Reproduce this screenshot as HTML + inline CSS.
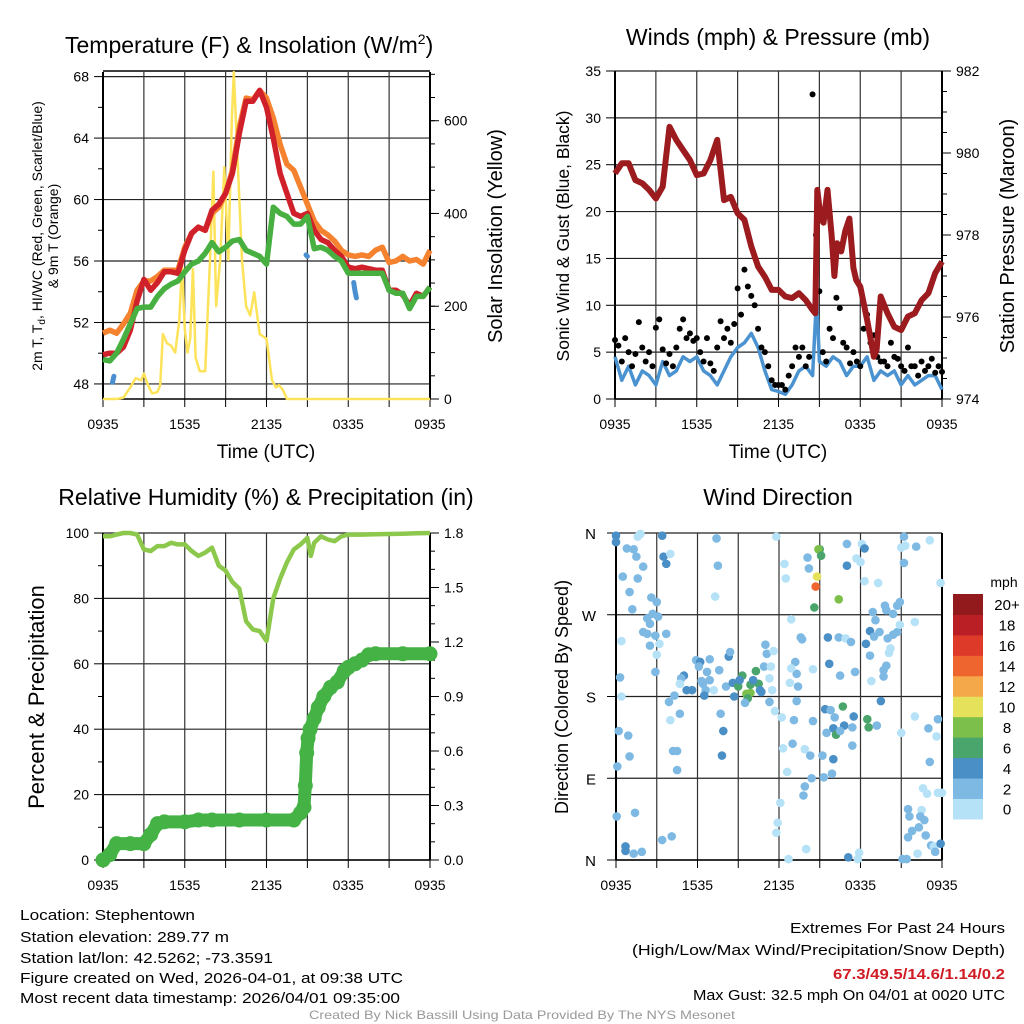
<!DOCTYPE html>
<html><head><meta charset="utf-8"><title>Mesonet Meteogram</title>
<style>
html,body{margin:0;padding:0;background:#fff;}
svg{display:block;font-family:"Liberation Sans",Arial,sans-serif;}
</style></head>
<body>
<svg id="fig" width="1024" height="1024" viewBox="0 0 1024 1024">
<rect width="1024" height="1024" fill="#fff"/>
<g id="root"></g>
</svg>
<script>
// ---------- DATA ----------
const timeTickLabels = ["0935","1535","2135","0335","0935"];
const tempHours = [0,0.5,1,1.5,2,2.5,3,3.5,4,4.5,5,5.5,6,6.5,7,7.5,8,8.5,9,9.5,10,10.5,11,11.5,12,12.5,13,13.5,14,14.5,15,15.5,16,16.5,17,17.5,18,18.5,19,19.5,20,20.5,21,21.5,22,22.5,23,23.5,24];
const temp2m = [49.9,50.0,50.0,50.4,51.5,53.4,54.8,54.1,54.6,55.3,55.3,55.2,56.7,57.8,58.2,58.0,59.3,59.7,60.4,61.7,64.3,66.4,66.4,67.1,66.0,64.0,61.7,60.4,59.1,58.9,59.1,58.0,57.4,57.2,56.7,56.3,55.6,55.5,55.6,55.5,55.4,55.4,54.1,54.1,53.8,53.1,53.9,53.7,54.3];
const dewpoint = [49.6,49.5,50.0,50.9,51.9,52.9,53.0,53.0,53.7,54.2,54.5,54.7,55.3,55.8,56.0,56.5,57.2,56.6,56.9,57.3,57.4,56.7,56.5,56.3,55.8,59.5,59.1,58.9,58.4,58.4,58.9,56.8,56.9,56.7,56.3,56.0,55.2,55.2,55.2,55.2,55.2,55.2,54.1,53.9,53.9,52.9,53.7,53.7,54.3];
const temp9m = [51.3,51.5,51.3,51.9,52.6,54.1,54.7,54.7,55.0,55.4,55.4,55.4,56.9,57.8,58.2,58.0,59.1,59.5,60.4,61.9,64.7,66.6,66.5,67.1,66.6,65.3,63.6,62.3,61.9,60.8,59.7,58.6,58.0,57.7,57.3,56.7,56.4,56.3,56.4,56.3,56.7,56.9,55.9,56.0,56.3,56.0,56.1,55.8,56.7];
const hiwcHours = [0.7,0.75,0.8, 14.9,15.0, 18.4,18.5,18.6];
const hiwcValues = [48.1,48.3,48.5, 56.4,56.3, 54.6,54.0,53.6];
const hiwcSegments = [3,2,3];
const solarHours = [0,0.5,1,1.5,2,2.4,2.8,3.0,3.3,3.6,4.0,4.2,4.4,4.7,5.0,5.3,5.6,5.8,6.0,6.2,6.4,6.6,6.8,7.1,7.5,7.85,8.1,8.3,8.6,8.9,9.2,9.45,9.6,9.9,10.2,10.5,10.8,11.1,11.5,12.0,12.4,12.7,12.9,13.2,13.5,24];
const solarValues = [0,0,0,3,25,45,40,55,30,12,15,30,140,120,115,100,170,290,150,100,130,280,90,60,60,300,490,200,300,500,300,600,705,500,300,200,180,230,140,130,40,25,30,20,0,0];
const windHours = [0,0.5,1,1.5,2,2.5,3,3.5,4,4.5,5,5.5,6,6.5,7,7.5,8,8.5,9,9.5,10,10.5,11,11.5,12,12.5,13,13.5,14,14.5,14.8,15,15.5,16,16.5,17,17.5,18,18.5,19,19.5,20,20.5,21,21.5,22,22.5,23,23.5,24];
const windSpeed = [4.5,2,3.5,1.5,3,2.5,1.5,4,2.5,3,4.5,4,4.5,3,2.5,1.5,3,4.5,5.5,6,7,5.5,3,1,0.8,0.5,1.5,3,3.5,2.5,11,4,3.5,4.5,4,2.5,3.5,3.5,4.5,2,3,2.5,3,1.5,2.5,1.5,2,2.5,2.5,1];
const gustSpeed = [6.3,5.7,4,6.5,5,3.5,4.8,8.2,5.5,4,5,3.5,7.6,8.5,5.3,3.8,4.8,3.5,5.5,7.5,8.5,6.5,7,6.2,6.5,5,4,6.5,3.8,3,5.5,8.3,6.5,7.5,6,8,11.8,9,13.8,12,11,10,7.5,5.5,5,3.5,2,1.5,1.5,1.5,1,2.5,3.5,5.5,4.5,5.5,3.5,4.5,32.5,17.5,11.5,5,4,7.5,6.5,10.8,9.7,6,5.5,3.8,5,4,3.5,7.5,9,6,6.8,4.5,4,4,3.5,6,4.5,4.3,3.5,3,5.5,3.5,3.5,2.5,4,3,3.5,4.3,2.8,3.5,2.9];
const pressHours = [0,0.5,1,1.5,2,2.5,3,3.5,4,4.5,5,5.5,6,6.5,7,7.5,8,8.5,9,9.5,10,10.5,11,11.5,12,12.5,13,13.5,14,14.5,14.7,14.85,15.1,15.3,15.6,15.9,16.1,16.3,16.6,16.9,17.2,17.5,17.7,18,18.5,19,19.2,19.5,20,20.5,21,21.5,22,22.5,23,23.5,24];
const pressure = [979.5,979.75,979.75,979.34,979.26,979.1,978.89,979.18,980.64,980.32,980.07,979.83,979.46,979.5,979.83,980.32,978.85,978.93,978.53,978.37,977.72,977.23,976.98,976.66,976.66,976.5,976.46,976.58,976.41,976.17,976.09,979.1,978.4,978.3,979.1,978.0,977.0,977.8,977.6,978.1,978.4,977.2,976.9,976.74,975.93,975.03,975.2,976.5,976.09,975.76,975.68,976.01,976.09,976.41,976.58,977.07,977.35];
const rhHours = [0,0.5,1,1.5,2,2.5,3,3.5,4,4.5,5,5.5,6,6.5,7,7.5,8,8.5,9,9.5,10,10.5,11,11.5,12,12.5,13,13.5,14,14.5,15,15.25,15.5,16,16.5,17,17.5,18,19,20,21,22,23,24];
const rhValues = [99,99,99.5,100,100,99.5,95,94.5,96,96,97,96.5,96.5,94.5,93,94,95.5,90,88.5,85,83,73,70.5,70,67,80,86,91,95,96.5,98.5,93,97,99,98,97.5,99,99.5,99.5,99.6,99.7,99.8,99.9,100];
const precipHours = [0,0.5,1,2,3,3.5,4,4.5,6,7,8,10,12,14,14.5,14.75,14.85,14.95,15.05,15.2,15.5,15.8,16.2,16.7,17.2,17.7,18,18.5,19,19.5,20,22,24];
const precipValues = [0,0.03,0.09,0.09,0.09,0.14,0.2,0.21,0.21,0.22,0.22,0.22,0.22,0.22,0.26,0.29,0.41,0.59,0.67,0.72,0.78,0.84,0.9,0.95,0.98,1.04,1.06,1.08,1.1,1.13,1.135,1.135,1.135];
const dirHours = [0.0,0.0,1.8,1.6,0.8,1.3,1.5,2.0,0.5,1.6,1.0,2.6,3.0,1.2,2.7,3.1,2.3,2.5,2.0,2.3,2.9,3.7,0.4,2.5,3.2,3.0,2.9,0.3,0.4,0.2,0.9,1.0,0.1,0.05,1.4,0.7,0.7,1.3,1.9,3.4,4.1,3.4,3.5,3.7,4.0,7.4,7.5,7.3,3.9,4.3,4.7,4.0,4.2,4.5,4.5,5.0,4.8,4.7,5.2,5.6,5.9,6.2,6.1,6.9,6.7,6.9,6.4,6.6,6.5,7.2,6.3,7.6,7.7,7.9,7.8,8.1,8.3,8.4,8.6,8.7,9.0,9.3,9.1,9.6,9.9,9.7,9.9,10.3,10.5,10.1,10.6,9.5,10.7,10.9,11.1,11.0,11.6,11.3,11.5,11.3,11.4,11.7,11.8,12.4,12.5,12.2,12.3,13.0,13.1,12.6,12.1,11.9,11.8,12.7,12.9,13.6,13.7,13.2,13.3,13.4,12.9,12.8,13.3,13.9,14.3,13.9,13.8,14.4,14.0,14.5,14.1,14.2,15.0,14.9,15.1,14.8,14.7,14.6,16.4,15.6,16.4,16.9,17.3,15.7,16.5,17.6,15.4,15.8,16.1,16.7,17.5,16.8,16.0,15.5,16.2,16.5,17.4,17.4,14.5,15.2,16.0,15.3,15.9,17.0,17.0,18.1,18.3,17.7,18.0,18.3,19.3,18.6,18.5,18.4,18.7,18.7,18.9,19.1,19.0,19.4,18.8,19.5,19.2,19.9,19.7,19.7,20.2,20.1,20.0,20.4,20.7,19.8,19.9,20.4,20.7,20.9,20.9,22.0,21.2,21.3,21.0,21.2,22.1,23.1,23.9,21.0,22.0,23.0,23.7,23.6,23.1,22.6,22.9,23.7,24.0,21.5,22.5,21.6,22.4,22.7,21.8,22.3,22.8,21.5,23.2,23.4,23.5,22.2,21.4,23.9,17.1,17.9,17.8,21.1];
const dirDegrees = [357,350,359,356,343,342,334,323,312,310,295,289,284,276,271,268,266,260,251,249,247,249,241,236,238,226,207,201,180,142,137,114,103,48,52,15,10,7,9,22,26,357,334,326,337,354,324,290,174,181,161,154,120,120,99,203,200,194,187,187,220,218,213,221,207,198,194,187,181,187,197,209,161,142,115,191,224,229,195,180,191,203,198,183,184,178,193,208,194,198,187,173,185,213,227,237,230,200,187,174,213,164,356,326,310,157,123,128,154,97,63,41,30,1,265,245,243,218,205,191,211,195,175,122,115,81,71,90,12,210,333,321,342,342,335,312,301,278,287,245,245,244,240,216,203,207,166,165,157,169,158,148,145,140,138,142,146,126,153,115,111,91,95,348,324,348,343,332,328,307,305,146,155,238,225,252,273,264,246,251,197,175,148,214,209,202,233,228,244,248,251,280,275,271,280,284,259,262,356,346,344,327,345,352,305,140,158,145,155,136,108,79,73,74,74,56,55,48,48,44,32,36,27,25,16,15,9,7,1,18,3,8,1,1];
const dirSpeed = [5,5,1,1,3,3,3,3,3,3,3,3,3,3,3,3,3,3,3,3,3,3,1,3,1,1,3,3,1,3,3,3,3,3,3,5,5,3,3,3,3,5,5,5,1,3,3,1,3,3,3,1,3,3,3,5,3,1,5,5,3,5,3,3,3,3,3,3,5,1,3,3,3,5,5,3,5,3,5,5,7,7,5,9,9,7,7,7,7,5,5,3,5,3,3,3,1,1,1,3,1,1,1,1,1,1,1,3,3,1,1,1,1,1,1,3,3,3,3,3,1,1,3,1,3,3,3,3,1,1,3,3,7,9,7,11,15,7,9,5,3,1,3,5,3,3,5,3,3,7,5,5,5,3,7,3,3,3,3,3,5,3,3,3,5,1,5,1,1,1,1,7,7,5,3,5,3,3,3,3,1,5,3,3,3,3,1,1,3,3,3,3,3,3,3,3,1,1,3,1,1,3,3,1,1,1,1,3,3,1,3,1,1,1,1,3,1,3,3,3,3,3,3,3,3,1,3,1,3,5,5,1,1];
const speedBinLabels = ["0","2","4","6","8","10","12","14","16","18","20+"];
const speedBinColors = ["#b5e2f7","#7db9e3","#4a8fc6","#4aa56c","#7cc04b","#e6e15a","#f5a84a","#ef6530","#dd3a2a","#bb1f26","#921a1c"];
const dirLabels = ["N","E","S","W","N"];

// ---------- HELPERS ----------
const NS = "http://www.w3.org/2000/svg";
const root = document.getElementById("root");
function el(tag, attrs, parent){ const e=document.createElementNS(NS,tag); for(const k in attrs) e.setAttribute(k,attrs[k]); (parent||root).appendChild(e); return e; }
function txt(s, attrs, parent){ const e=el("text",attrs,parent); e.textContent=s; return e; }
function panel(x0,y0,w,h){ return {x0,y0,w,h, X:t=>x0+t/24*w}; }
function lin(d0,d1,p0,p1){ return v=>p0+(v-d0)/(d1-d0)*(p1-p0); }
function pathFrom(xs,ys){ return xs.map((x,i)=>(i?"L":"M")+x.toFixed(1)+","+ys[i].toFixed(1)).join(""); }

function frameAndGrid(P, g, yTicksPx, leftLabels, rightTicksPx, rightLabels, leftMinorPx, rightMinorPx){
  yTicksPx.forEach(y=>{ el("line",{x1:P.x0,x2:P.x0+P.w,y1:y,y2:y,stroke:"#222","stroke-width":1.2},g); });
  for(let t=3;t<24;t+=3){ const x=P.X(t); el("line",{x1:x,x2:x,y1:P.y0,y2:P.y0+P.h,stroke:"#333","stroke-width":1.2},g); }
  el("line",{x1:P.x0,x2:P.x0,y1:P.y0,y2:P.y0+P.h,stroke:"#000","stroke-width":2},g);
  el("line",{x1:P.x0+P.w,x2:P.x0+P.w,y1:P.y0,y2:P.y0+P.h,stroke:"#000","stroke-width":2},g);
  el("line",{x1:P.x0,x2:P.x0+P.w,y1:P.y0+P.h,y2:P.y0+P.h,stroke:"#000","stroke-width":1.5},g);
  yTicksPx.forEach((y,i)=>{ el("line",{x1:P.x0-9,x2:P.x0,y1:y,y2:y,stroke:"#000"},g);
    const t=txt(leftLabels[i],{x:P.x0-14,y:y+5,"font-size":14,"text-anchor":"end"},g);
      });
  (leftMinorPx||[]).forEach(y=>el("line",{x1:P.x0-5,x2:P.x0,y1:y,y2:y,stroke:"#000"},g));
  (rightTicksPx||[]).forEach((y,i)=>{ el("line",{x1:P.x0+P.w,x2:P.x0+P.w+9,y1:y,y2:y,stroke:"#000"},g);
    const t=txt(rightLabels[i],{x:P.x0+P.w+14,y:y+5,"font-size":14},g);
      });
  (rightMinorPx||[]).forEach(y=>el("line",{x1:P.x0+P.w,x2:P.x0+P.w+5,y1:y,y2:y,stroke:"#000"},g));
  for(let t=0;t<=24;t+=3){ const x=P.X(t); el("line",{x1:x,x2:x,y1:P.y0+P.h,y2:P.y0+P.h+8,stroke:"#000"},g); }
  timeTickLabels.forEach((s,i)=>{ const t=txt(s,{x:P.X(i*6),y:P.y0+P.h+30,"font-size":14,"text-anchor":"middle"},g);
      });
}
function range(a,b,s){ const r=[]; for(let v=a;v<=b+1e-9;v+=s) r.push(v); return r; }

// ---------- TITLES ----------
let t;
t=txt("Temperature (F) & Insolation (W/m",{x:65,y:53,"font-size":23},root);
 
const sup=el("tspan",{dy:-9,"font-size":14},t); sup.textContent="2";
const close=el("tspan",{dy:9,"font-size":23},t); close.textContent=")";
t=txt("Winds (mph) & Pressure (mb)",{x:778,y:45,"font-size":23,"text-anchor":"middle"});
 
t=txt("Relative Humidity (%) & Precipitation (in)",{x:266,y:505,"font-size":23,"text-anchor":"middle"});
 
t=txt("Wind Direction",{x:778,y:505,"font-size":23,"text-anchor":"middle"});
 

// ---------- PANEL 1: TEMPERATURE ----------
(function(){
  const g=el("g",{});  
  const P=panel(103,72,327,327);
  const Y=lin(47.02,68.3,399,72), YS=lin(0,705,399,72);
  frameAndGrid(P,g,[48,52,56,60,64,68].map(Y),["48","52","56","60","64","68"],
    [0,200,400,600].map(YS),["0","200","400","600"],[50,54,58,62,66].map(Y),range(0,700,50).map(YS));
  el("line",{x1:P.x0,x2:P.x0+P.w,y1:Y(68.3)-1,y2:Y(68.3)-1,stroke:"#000","stroke-width":1.5},g);
  const xs=tempHours.map(P.X);
  const sp=el("path",{d:pathFrom(solarHours.map(P.X),solarValues.map(YS)),fill:"none",stroke:"#fde35a","stroke-width":2.5,"stroke-linejoin":"round"},g);
   
  const o=el("path",{d:pathFrom(xs,temp9m.map(Y)),fill:"none",stroke:"#f5822f","stroke-width":5.5,"stroke-linejoin":"round"},g);
   
  const r=el("path",{d:pathFrom(xs,temp2m.map(Y)),fill:"none",stroke:"#d0202a","stroke-width":5.5,"stroke-linejoin":"round"},g);
   
  const gr=el("path",{d:pathFrom(xs,dewpoint.map(Y)),fill:"none",stroke:"#47b040","stroke-width":5.5,"stroke-linejoin":"round"},g);
   
  let k=0;
  hiwcSegments.forEach(n=>{ const hs=hiwcHours.slice(k,k+n), vs=hiwcValues.slice(k,k+n); k+=n;
    const b=el("path",{d:pathFrom(hs.map(P.X),vs.map(Y)),fill:"none",stroke:"#4a8fcf","stroke-width":5,"stroke-linecap":"round"},g);
      });
  t=txt("Time (UTC)",{x:266,y:458,"font-size":19,"text-anchor":"middle"},g);
   
  t=txt("2m T, T",{x:0,y:0,"font-size":14,"text-anchor":"middle",transform:"translate(42,236) rotate(-90)"},g);
  const sub=el("tspan",{dy:3,"font-size":10},t); sub.textContent="d";
  const rest=el("tspan",{dy:-3,"font-size":14},t); rest.textContent=", HI/WC (Red, Green, Scarlet/Blue)";
   
  t=txt("& 9m T (Orange)",{x:0,y:0,"font-size":14,"text-anchor":"middle",transform:"translate(58,236) rotate(-90)"},g);
   
  t=txt("Solar Insolation (Yellow)",{x:0,y:0,"font-size":20,"text-anchor":"middle",transform:"translate(502,236) rotate(-90)"},g);
   
})();

// ---------- PANEL 2: WINDS ----------
(function(){
  const g=el("g",{});  
  const P=panel(615,71,327,328);
  const Y=lin(0,35,399,71), YP=lin(974,982,399,71);
  frameAndGrid(P,g,[0,5,10,15,20,25,30,35].map(Y),["0","5","10","15","20","25","30","35"],
    [974,976,978,980,982].map(YP),["974","976","978","980","982"],[],range(974,982,0.5).map(YP));
  const w=el("path",{d:pathFrom(windHours.map(P.X),windSpeed.map(Y)),fill:"none",stroke:"#4b93d0","stroke-width":3.5,"stroke-linejoin":"round"},g);
   
  const step=24/(gustSpeed.length-1);
  gustSpeed.forEach((v,i)=>{ const c=el("circle",{cx:P.X(i*step),cy:Y(v),r:3,fill:"#000"},g);
      });
  const p=el("path",{d:pathFrom(pressHours.map(P.X),pressure.map(YP)),fill:"none",stroke:"#9b1b1e","stroke-width":6,"stroke-linejoin":"round"},g);
   
  t=txt("Time (UTC)",{x:778,y:458,"font-size":19,"text-anchor":"middle"},g);
   
  t=txt("Sonic Wind & Gust (Blue, Black)",{x:0,y:0,"font-size":17.5,"text-anchor":"middle",transform:"translate(569,236) rotate(-90)"},g);
   
  t=txt("Station Pressure (Maroon)",{x:0,y:0,"font-size":20,"text-anchor":"middle",transform:"translate(1014,236) rotate(-90)"},g);
   
})();

// ---------- PANEL 3: RH & PRECIP ----------
(function(){
  const g=el("g",{});  
  const P=panel(103,533,327,327);
  const Y=lin(0,100,860,533), YR=lin(0,1.8,860,533);
  frameAndGrid(P,g,[0,20,40,60,80,100].map(Y),["0","20","40","60","80","100"],
    [0,0.3,0.6,0.9,1.2,1.5,1.8].map(YR),["0.0","0.3","0.6","0.9","1.2","1.5","1.8"],[10,30,50,70,90].map(Y),range(0,1.8,0.1).map(YR));
  const rh=el("path",{d:pathFrom(rhHours.map(P.X),rhValues.map(Y)),fill:"none",stroke:"#8cc84b","stroke-width":4.5,"stroke-linejoin":"round"},g);
   
  const pr=el("path",{d:pathFrom(precipHours.map(P.X),precipValues.map(YR)),fill:"none",stroke:"#45b245","stroke-width":13,"stroke-linejoin":"round","stroke-linecap":"round"},g);
   
  precipHours.forEach((h,i)=>{ const c=el("circle",{cx:P.X(h),cy:YR(precipValues[i]),r:7.5,fill:"#45b245"},g);
      });
  t=txt("Percent & Precipitation",{x:0,y:0,"font-size":22,"text-anchor":"middle",transform:"translate(44,697) rotate(-90)"},g);
   
})();

// ---------- PANEL 4: WIND DIRECTION ----------
(function(){
  const g=el("g",{});  
  const P=panel(616,533,326,327);
  const Y=lin(0,360,860,533);
  frameAndGrid(P,g,[0,90,180,270,360].map(Y),["","","","",""],[],[],[],[]);
  dirLabels.forEach((s,i)=>{ const tt=txt(s,{x:596,y:Y(i*90)+6,"font-size":15,"text-anchor":"end"},g);
      });
  const n=Math.min(dirHours.length,dirDegrees.length);
  for(let i=0;i<n;i++){ const s=(dirSpeed[i]===undefined)?3:dirSpeed[i];
    const bin=Math.max(0,Math.min(10,Math.floor(s/2)));
    const c=el("circle",{cx:P.X(dirHours[i]),cy:Y(dirDegrees[i]),r:4.3,fill:speedBinColors[bin]},g);
      }
  t=txt("Direction (Colored By Speed)",{x:0,y:0,"font-size":18,"text-anchor":"middle",transform:"translate(568,697) rotate(-90)"},g);
   
  const cb=el("g",{},g);  
  const bh=20.45, top=594;
  speedBinColors.forEach((c,i)=>{ const y=top+(10-i)*bh;
    const r=el("rect",{x:953,y:y,width:30,height:bh+0.5,fill:c},cb);
     
    const l=txt(speedBinLabels[i],{x:1007,y:y+bh/2+6,"font-size":15,"text-anchor":"middle"},cb);
      });
  t=txt("mph",{x:1004,y:587,"font-size":14,"text-anchor":"middle"},cb);
   
})();

// ---------- FOOTER TEXT ----------
const leftLines=[["Location: Stephentown",920,175],["Station elevation: 289.77 m",942,209],["Station lat/lon: 42.5262; -73.3591",963,253],["Figure created on Wed, 2026-04-01, at 09:38 UTC",983,383],["Most recent data timestamp: 2026/04/01 09:35:00",1003,380]];
leftLines.forEach(l=>{ const e=txt(l[0],{x:20,y:l[1],"font-size":15,textLength:l[2],lengthAdjust:"spacingAndGlyphs"});
    });
const rightLines=[["Extremes For Past 24 Hours",933,215,"#000","normal"],["(High/Low/Max Wind/Precipitation/Snow Depth)",955,373,"#000","normal"],["67.3/49.5/14.6/1.14/0.2",979,172,"#d01c24","bold"],["Max Gust: 32.5 mph On 04/01 at 0020 UTC",1000,312,"#000","normal"]];
rightLines.forEach(l=>{ const e=txt(l[0],{x:1005-l[2],y:l[1],"font-size":15,fill:l[3],"font-weight":l[4],textLength:l[2],lengthAdjust:"spacingAndGlyphs"});
    });
t=txt("Created By Nick Bassill Using Data Provided By The NYS Mesonet",{x:309,y:1019,"font-size":12,fill:"#999",textLength:426,lengthAdjust:"spacingAndGlyphs"});
 
</script>
</body></html>
